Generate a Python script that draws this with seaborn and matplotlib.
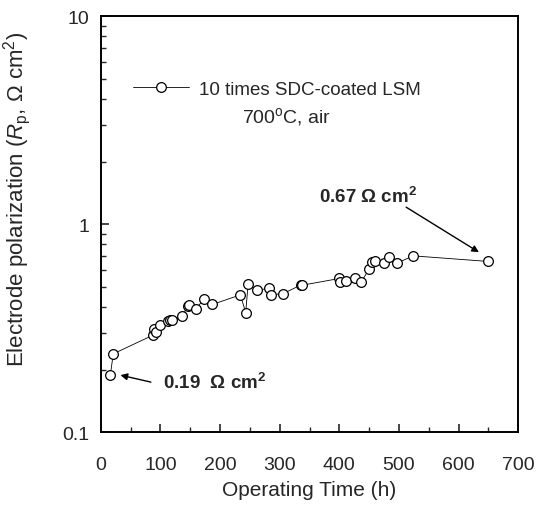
import matplotlib
matplotlib.use("Agg")
import matplotlib.pyplot as plt
import numpy as np
import pandas as pd
import seaborn as sns

sns.set_style("ticks")
plt.rcParams["font.family"] = ["Liberation Sans", "DejaVu Sans"]
plt.rcParams["mathtext.fontset"] = "custom"
plt.rcParams["mathtext.rm"] = "Liberation Sans"
plt.rcParams["mathtext.it"] = "Liberation Sans:italic"
plt.rcParams["mathtext.bf"] = "Liberation Sans:bold"
plt.rcParams["xtick.direction"] = "in"
plt.rcParams["ytick.direction"] = "in"

# operating time (h) and polarization resistance (ohm cm2)
time_h = [16, 21, 88, 89.5, 93, 99, 112, 116, 120, 137, 145.5, 148, 159, 173, 187,
          234, 243, 247, 262, 282, 285, 306, 335, 338, 400, 401, 411, 427, 436,
          450, 454, 460, 474, 484, 496, 524, 649]
rp = [0.188, 0.238, 0.293, 0.313, 0.302, 0.328, 0.343, 0.345, 0.345, 0.36, 0.405, 0.408,
      0.39, 0.436, 0.411, 0.457, 0.376, 0.515, 0.482, 0.491, 0.457, 0.464, 0.509, 0.509,
      0.548, 0.528, 0.532, 0.554, 0.525, 0.608, 0.655, 0.667, 0.647, 0.694, 0.649, 0.704,
      0.662]
series_label = "10 times SDC-coated LSM"

df = pd.DataFrame({"t": time_h, "rp": rp})

fig, ax = plt.subplots(figsize=(5.36, 5.06), dpi=100)
fig.subplots_adjust(left=0.188, right=0.967, top=0.966, bottom=0.144)

sns.lineplot(data=df, x="t", y="rp", ax=ax, color="black", linewidth=0.6,
             marker="o", markersize=7, markerfacecolor="white",
             markeredgecolor="black", markeredgewidth=0.9, label=series_label)

ax.set_yscale("log")
ax.set_xlim(0, 700)
ax.set_ylim(0.1, 10)
ax.set_xticks(np.arange(0, 701, 100))
ax.set_xticks(np.arange(50, 700, 100), minor=True)
ax.set_yticks([0.1, 1, 10])
ax.set_yticklabels(["0.1", "1", "10"])
ax.tick_params(axis="both", which="major", length=6, width=1.2, labelsize=14)
ax.tick_params(axis="both", which="minor", length=3.5, width=1.0)
ax.tick_params(axis="x", which="major", pad=17)
ax.tick_params(axis="y", which="major", pad=8)
ax.tick_params(top=False, right=False)
for s in ax.spines.values():
    s.set_linewidth(1.4)
    s.set_color("black")

ax.set_xlabel("Operating Time (h)", fontsize=15, labelpad=5)
ax.set_ylabel("Electrode polarization ($R_\\mathrm{p}$, Ω cm$^2$)", fontsize=16)
ax.yaxis.set_label_coords(-0.163, 0.5625)

ax.legend(loc="center left", bbox_to_anchor=(0.055, 0.825), frameon=False,
          fontsize=13.5, handlelength=3.0, handletextpad=0.5, borderpad=0)

ax.text(0.446, 0.76, "700$^\\mathrm{o}$C, air", transform=ax.transAxes,
        fontsize=14, ha="center", va="center")

ax.text(366, 1.36, "0.67 Ω cm$^\\mathbf{2}$", fontsize=13.5,
        fontweight="bold", ha="left", va="center")
ax.annotate("", xy=(634, 0.733), xytext=(512, 1.207),
            arrowprops=dict(arrowstyle="-|>", color="black", lw=1.0,
                            shrinkA=0, shrinkB=0, mutation_scale=10))
ax.text(104, 0.174, "0.19  Ω cm$^\\mathbf{2}$", fontsize=13.5,
        fontweight="bold", ha="left", va="center")
ax.annotate("", xy=(33, 0.188), xytext=(84, 0.174),
            arrowprops=dict(arrowstyle="-|>", color="black", lw=1.0,
                            shrinkA=0, shrinkB=0, mutation_scale=10))

fig.savefig("out.png", dpi=100)
